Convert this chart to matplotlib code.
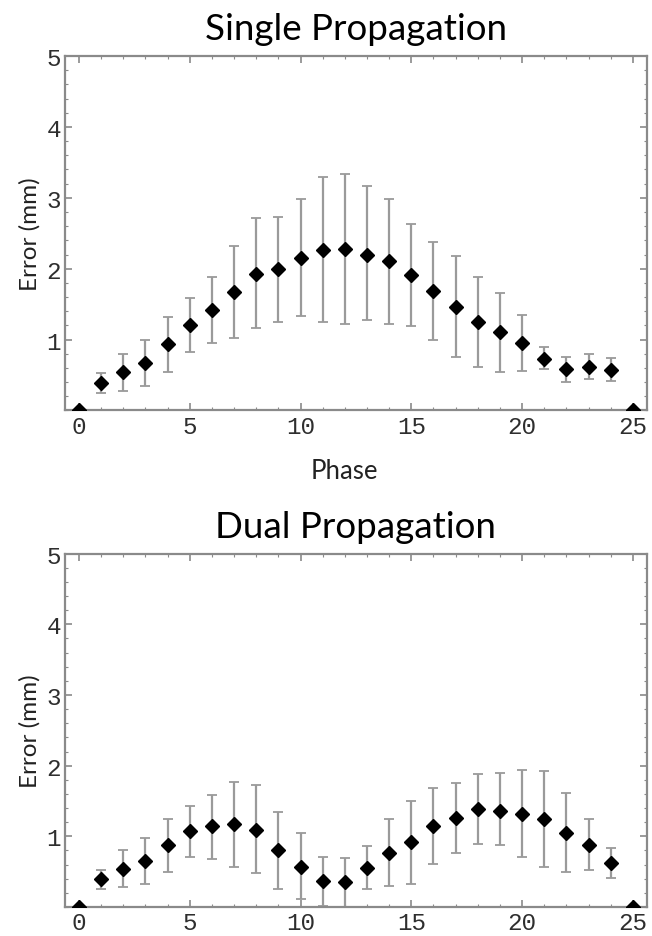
import numpy as np
import matplotlib
matplotlib.use("Agg")
import matplotlib.pyplot as plt
from matplotlib.ticker import MultipleLocator

# Phase 0..25
phase = list(range(26))

# Single propagation: mean error and error bar ends (mm)
single_mean = [0, 0.39, 0.54, 0.67, 0.93, 1.20, 1.42, 1.67, 1.93, 1.99, 2.15, 2.27, 2.28,
               2.20, 2.11, 1.91, 1.69, 1.46, 1.25, 1.10, 0.95, 0.73, 0.58, 0.61, 0.57, 0]
single_low = [None, 0.25, 0.28, 0.34, 0.54, 0.83, 0.95, 1.02, 1.16, 1.25, 1.33, 1.25, 1.22,
              1.27, 1.22, 1.19, 1.00, 0.75, 0.61, 0.54, 0.56, 0.58, 0.40, 0.44, 0.41, None]
single_high = [None, 0.53, 0.80, 1.00, 1.32, 1.59, 1.88, 2.32, 2.71, 2.73, 2.98, 3.30, 3.34,
               3.16, 2.99, 2.63, 2.38, 2.18, 1.88, 1.65, 1.35, 0.89, 0.76, 0.80, 0.74, None]

# Dual propagation
dual_mean = [0, 0.39, 0.54, 0.65, 0.87, 1.07, 1.14, 1.17, 1.09, 0.80, 0.57, 0.37, 0.36,
             0.55, 0.77, 0.92, 1.14, 1.26, 1.39, 1.36, 1.32, 1.25, 1.05, 0.88, 0.62, 0]
dual_low = [None, 0.26, 0.28, 0.33, 0.49, 0.71, 0.68, 0.56, 0.48, 0.25, 0.11, 0.02, 0.0,
            0.25, 0.30, 0.32, 0.61, 0.76, 0.89, 0.87, 0.70, 0.56, 0.49, 0.52, 0.41, None]
dual_high = [None, 0.52, 0.80, 0.97, 1.25, 1.43, 1.59, 1.77, 1.72, 1.35, 1.05, 0.71, 0.69,
             0.86, 1.25, 1.50, 1.68, 1.76, 1.88, 1.89, 1.94, 1.93, 1.61, 1.24, 0.84, None]

tick_font = "Liberation Mono"
label_font = "Lato"
spine_col = "#8a8a8a"


def panel(ax, mean, low, high, title, xlabel=None):
    m = np.array(mean, dtype=float)
    lo = np.array([np.nan if v is None else v for v in low], dtype=float)
    hi = np.array([np.nan if v is None else v for v in high], dtype=float)
    ax.errorbar(phase, m, yerr=[m - lo, hi - m], fmt="none", ecolor="#9a9a9a",
                elinewidth=1.6, capsize=3.5, capthick=1.3, zorder=2)
    ax.plot(phase, m, "D", color="black", markersize=6.8, zorder=3)
    ax.set_xlim(-0.63, 25.63)
    ax.set_ylim(0, 5)
    ax.set_xticks([0, 5, 10, 15, 20, 25])
    ax.set_yticks([1, 2, 3, 4, 5])
    ax.xaxis.set_minor_locator(MultipleLocator(1))
    ax.yaxis.set_minor_locator(MultipleLocator(0.2))
    ax.tick_params(which="both", direction="in", top=True, right=True, color=spine_col)
    ax.tick_params(which="major", length=5, width=1.2, labelsize=17.5, labelcolor="#2e2e2e", pad=3)
    ax.tick_params(which="minor", length=2.5, width=0.8)
    for lab in ax.get_xticklabels() + ax.get_yticklabels():
        lab.set_fontfamily(tick_font)
    for s in ax.spines.values():
        s.set_color(spine_col)
        s.set_linewidth(1.6)
    ax.set_title(title, fontsize=26.5, family=label_font, pad=12)
    ax.set_ylabel("Error (mm)", fontsize=17.5, family=label_font, color="#222222", labelpad=4)
    if xlabel:
        ax.set_xlabel(xlabel, fontsize=18.5, family=label_font, color="#222222", labelpad=6)
        ax.xaxis.set_label_coords(0.481, -0.135)


fig = plt.figure(figsize=(6.52, 9.37), dpi=100)
ax1 = fig.add_axes([0.0997, 0.561, 0.8923, 0.378])
ax2 = fig.add_axes([0.0997, 0.031, 0.8923, 0.377])

panel(ax1, single_mean, single_low, single_high, "Single Propagation", "Phase")
panel(ax2, dual_mean, dual_low, dual_high, "Dual Propagation")

fig.savefig("out.png", dpi=100)
